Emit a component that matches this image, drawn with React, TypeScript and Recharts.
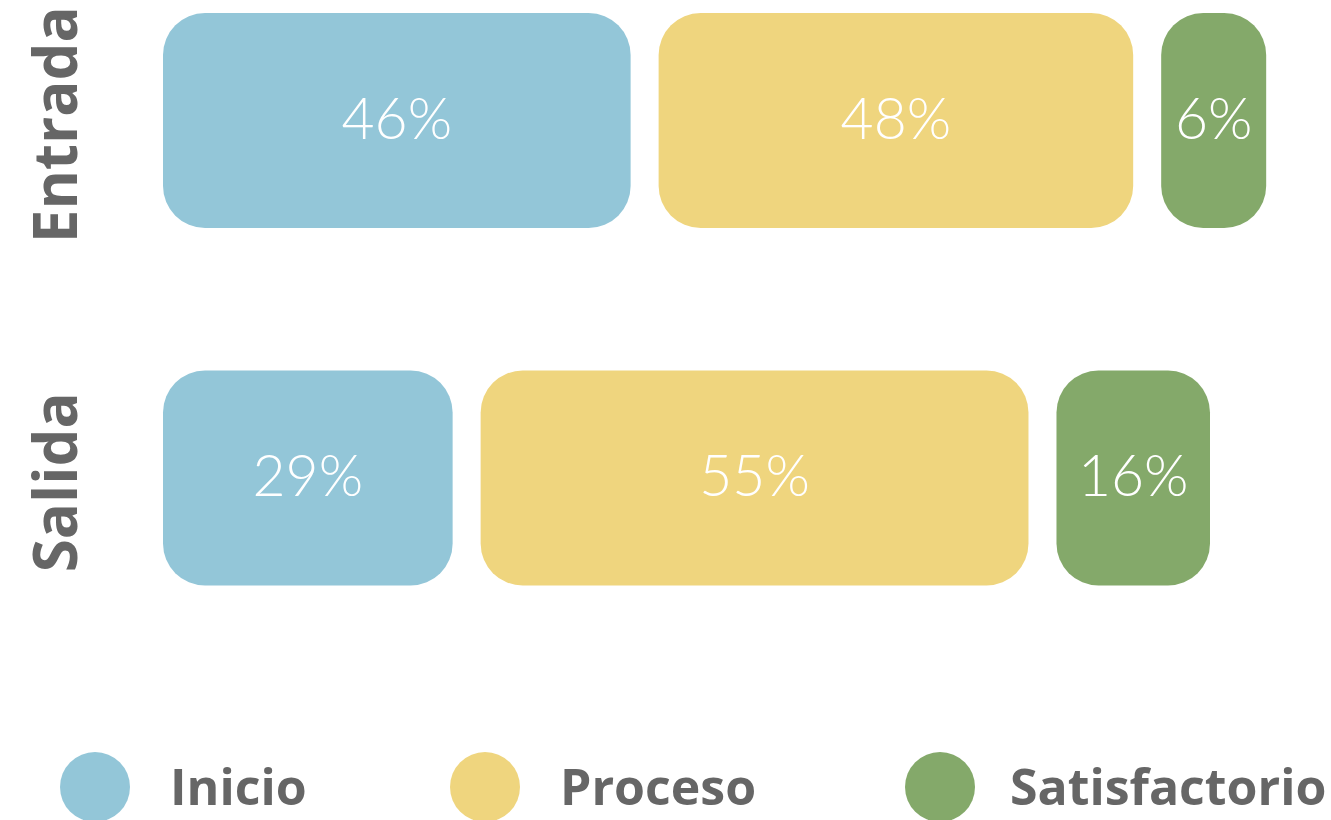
import React from "react";
import { BarChart, Bar, XAxis, YAxis, Legend } from "recharts";

const categories = ["Entrada", "Salida"];
const inicio = [46, 29];
const proceso = [48, 55];
const satisfactorio = [6, 16];
const seriesKeys = ["inicio", "proceso", "satisfactorio"];
const seriesNames = ["Inicio", "Proceso", "Satisfactorio"];
const seriesColors = ["#93C6D8", "#EFD57E", "#84A96A"];
const seriesMinSize = [0, 0, 119];

const data = categories.map((name, i) => ({
  name,
  inicio: inicio[i],
  proceso: proceso[i],
  satisfactorio: satisfactorio[i],
}));

const GAP = 28;
const RADIUS = 42;

const makeShape = (idx: number, key: string) => (props: any) => {
  const { x, y, width, height, fill, payload } = props;
  let x0 = x;
  let x1 = x + width;
  if (idx > 0) x0 += GAP / 2;
  if (idx < seriesKeys.length - 1) x1 -= GAP / 2;
  const w = Math.max(0, x1 - x0);
  const v = payload[key];
  return (
    <g>
      <rect x={x0} y={y} width={w} height={height} rx={RADIUS} ry={RADIUS} fill={fill} />
      <text
        x={x0 + w / 2}
        y={y + height / 2 + 18}
        textAnchor="middle"
        fill="#ffffff"
        fontFamily="Lato, sans-serif"
        fontWeight={300}
        fontSize={57}
      >
        {v}%
      </text>
    </g>
  );
};

const CategoryTick = (props: any) => {
  const { y, payload } = props;
  const bx = 77;
  const cy = y + 4;
  return (
    <text
      x={bx}
      y={cy}
      transform={`rotate(-90, ${bx}, ${cy})`}
      textAnchor="middle"
      fill="#666666"
      fontFamily="'Open Sans', sans-serif"
      fontWeight={700}
      fontSize={60}
    >
      {payload.value}
    </text>
  );
};

const legendCircleX = [95, 485, 940];
const legendTextX = [170, 560, 1010];

const renderLegend = (props: any) => {
  const payload = props.payload || [];
  return (
    <svg width={1331} height={820} style={{ position: "absolute", left: 0, top: 0 }}>
      {payload.map((entry: any, i: number) => (
        <g key={entry.value}>
          <circle cx={legendCircleX[i]} cy={787} r={35} fill={entry.color} />
          <text
            x={legendTextX[i]}
            y={805}
            fill="#666666"
            fontFamily="'Open Sans', sans-serif"
            fontWeight={700}
            fontSize={50}
          >
            {entry.value}
          </text>
        </g>
      ))}
    </svg>
  );
};

export default function App() {
  return (
    <div style={{ position: "absolute", left: 0, top: 0, width: 1331, height: 820, background: "#ffffff", overflow: "hidden" }}>
      <BarChart
        width={1331}
        height={820}
        data={data}
        layout="vertical"
        margin={{ top: -58, right: 121, bottom: 163, left: 0 }}
        barSize={215}
      >
        <XAxis type="number" domain={[0, 100]} hide />
        <YAxis
          type="category"
          dataKey="name"
          width={163}
          axisLine={false}
          tickLine={false}
          tick={<CategoryTick />}
        />
        <Legend
          layout="horizontal"
          verticalAlign="middle"
          align="center"
          content={renderLegend}
          wrapperStyle={{ position: "absolute", left: 0, top: 0, width: 1331, height: 820, pointerEvents: "none" }}
        />
        {seriesKeys.map((key, i) => (
          <Bar
            key={key}
            dataKey={key}
            name={seriesNames[i]}
            stackId="a"
            fill={seriesColors[i]}
            minPointSize={seriesMinSize[i]}
            isAnimationActive={false}
            shape={makeShape(i, key)}
          />
        ))}
      </BarChart>
    </div>
  );
}
